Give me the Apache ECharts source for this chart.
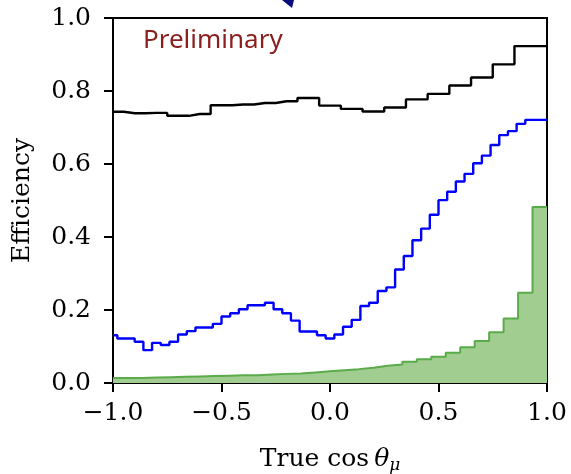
<!DOCTYPE html>
<html>
<head>
<meta charset="utf-8">
<script src="https://cdn.jsdelivr.net/npm/echarts@6/dist/echarts.min.js"></script>
<style>
  html, body { margin: 0; padding: 0; background: #fff; }
  #chart { width: 571px; height: 474px; }
</style>
</head>
<body>
<div id="chart"></div>
<script>
// black: points every 0.1 from -1 to 1 (step changes half way between)
const blackStart = -1, blackStep = 0.1
const blackVals = [0.743, 0.739, 0.740, 0.732, 0.737, 0.761, 0.763, 0.767, 0.772, 0.781,
  0.760, 0.751, 0.744, 0.755, 0.777, 0.792, 0.815, 0.837, 0.873, 0.923, 0.923]

// blue: points every 0.04 from -1 to 1
const blueStart = -1, blueStep = 0.04
const blueVals = [0.131, 0.122, 0.122, 0.113, 0.090, 0.110, 0.104, 0.113, 0.133, 0.142,
  0.152, 0.152, 0.162, 0.182, 0.191, 0.202, 0.213, 0.213, 0.220, 0.202,
  0.191, 0.171, 0.141, 0.141, 0.131, 0.122, 0.133, 0.154, 0.173, 0.211,
  0.220, 0.252, 0.262, 0.311, 0.348, 0.391, 0.423, 0.461, 0.501, 0.524,
  0.552, 0.573, 0.602, 0.623, 0.652, 0.679, 0.690, 0.710, 0.721, 0.721, 0.721]

// green histogram: 30 equal bins on [-1, 1]
const greenBins = 30
const greenVals = [0.014, 0.014, 0.015, 0.016, 0.017, 0.018, 0.019, 0.020, 0.021, 0.021,
  0.023, 0.025, 0.026, 0.029, 0.032, 0.035, 0.038, 0.042, 0.047, 0.051,
  0.058, 0.065, 0.072, 0.083, 0.098, 0.115, 0.139, 0.177, 0.247, 0.482]

const pts = (start, step, vals) => vals.map((v, i) => [+(start + i * step).toFixed(4), v])
const greenData = greenVals.map((v, i) => [-1 + 2 * i / greenBins, v])
greenData.push([1, greenVals[greenVals.length - 1]])

const fmt = v => (v < 0 ? '\u2212' : '') + Math.abs(v).toFixed(1)
const serif = 'DejaVu Serif'

const chart = echarts.init(document.getElementById('chart'))
chart.setOption({
  animation: false,
  backgroundColor: '#fff',
  grid: {
    left: 113, top: 18, right: 24, bottom: 91,
    outerBoundsMode: 'none',
    show: true, borderColor: '#000', borderWidth: 2
  },
  xAxis: {
    type: 'value', min: -1, max: 1, interval: 0.5,
    splitLine: { show: false },
    axisLine: { onZero: false, lineStyle: { color: '#000', width: 2 } },
    axisTick: { length: 9, lineStyle: { color: '#000', width: 2 } },
    axisLabel: { formatter: fmt, color: '#000', fontFamily: serif, fontSize: 25, margin: 18 },
    name: '{a|True cos}{b|\u03b8}{c|\u03bc}',
    nameLocation: 'middle', nameGap: 62,
    nameTextStyle: {
      rich: {
        a: { fontFamily: serif, fontSize: 25, color: '#000' },
        b: { fontFamily: serif, fontSize: 25, fontStyle: 'italic', color: '#000', padding: [0, 0, 0, 5] },
        c: { fontFamily: serif, fontSize: 17, fontStyle: 'italic', color: '#000', padding: [12, 0, 0, 0] }
      }
    }
  },
  yAxis: {
    type: 'value', min: 0, max: 1, interval: 0.2,
    splitLine: { show: false },
    axisLine: { show: true, onZero: false, lineStyle: { color: '#000', width: 2 } },
    axisTick: { show: true, length: 9, lineStyle: { color: '#000', width: 2 } },
    axisLabel: { formatter: v => v.toFixed(1), color: '#000', fontFamily: serif, fontSize: 25, margin: 22 },
    name: 'Efficiency',
    nameLocation: 'middle', nameGap: 78,
    nameTextStyle: { fontFamily: serif, fontSize: 25, color: '#000' }
  },
  graphic: [
    {
      type: 'text', left: 143, top: 28,
      style: { text: 'Preliminary', fill: '#8b1e1e', font: '26px "Noto Sans"' }
    },
    {
      type: 'polygon',
      shape: { points: [[282, 0], [294, 0], [292, 8]] },
      style: { fill: '#0b0b7a' }
    }
  ],
  series: [
    {
      type: 'line', step: 'end', data: greenData, showSymbol: false, z: 1,
      lineStyle: { color: '#5aab4a', width: 2 },
      areaStyle: { color: '#a1cd91', opacity: 1 }
    },
    {
      type: 'line', step: 'middle', data: pts(blueStart, blueStep, blueVals), showSymbol: false, z: 2,
      lineStyle: { color: '#0000ff', width: 2.4 }
    },
    {
      type: 'line', step: 'middle', data: pts(blackStart, blackStep, blackVals), showSymbol: false, z: 3,
      lineStyle: { color: '#000', width: 2.4 }
    }
  ]
})
</script>
</body>
</html>
